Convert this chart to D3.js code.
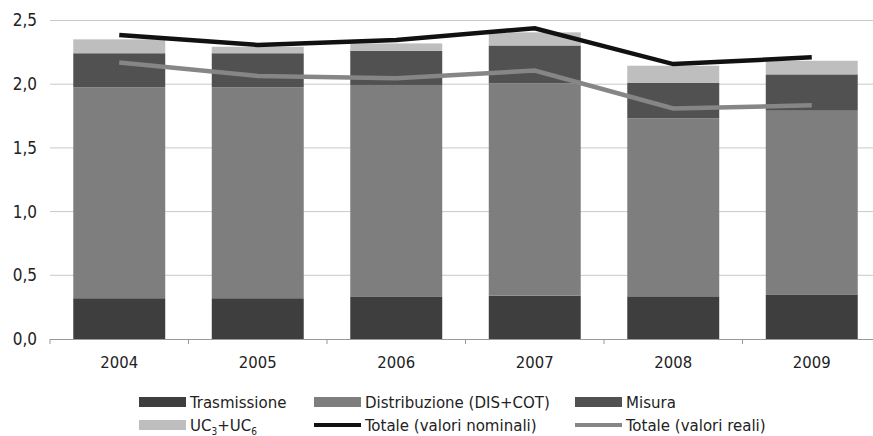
<!DOCTYPE html>
<html>
<head>
<meta charset="utf-8">
<script src="https://cdn.jsdelivr.net/npm/d3@7"></script>
<style>
  html, body { margin: 0; padding: 0; background: #fff; }
  svg { display: block; }
  text { font-family: "DejaVu Sans Condensed", "DejaVu Sans", sans-serif; fill: #222; }
</style>
</head>
<body>
<svg id="chart" width="873" height="436"></svg>
<script>
// ---- data ----
const years = ["2004", "2005", "2006", "2007", "2008", "2009"];
const trasmissione = [0.32, 0.32, 0.33, 0.34, 0.335, 0.35];
const distribuzione = [1.656, 1.656, 1.664, 1.667, 1.397, 1.442];
const misura = [0.267, 0.267, 0.269, 0.297, 0.28, 0.285];
const uc = [0.109, 0.051, 0.057, 0.103, 0.133, 0.107];
const totaleNominali = [2.386, 2.308, 2.347, 2.439, 2.158, 2.211];
const totaleReali = [2.17, 2.065, 2.046, 2.107, 1.81, 1.834];
const yTicks = [0, 0.5, 1.0, 1.5, 2.0, 2.5];

const seriesKeys = ["trasmissione", "distribuzione", "misura", "uc"];
const seriesColors = { trasmissione: "#3e3e3e", distribuzione: "#7e7e7e", misura: "#515151", uc: "#bebebe" };
const table = years.map((yr, i) => ({
  year: yr, trasmissione: trasmissione[i], distribuzione: distribuzione[i], misura: misura[i], uc: uc[i]
}));

const svg = d3.select("#chart");
const mLeft = 50, mRight = 881, mTop = 20.5, mBottom = 339;

const x = d3.scaleBand().domain(years).range([mLeft, mRight]).paddingInner(0.336).paddingOuter(0.168);
const y = d3.scaleLinear().domain([0, 2.5]).range([mBottom, mTop]);
const loc = d3.formatLocale({ decimal: ",", thousands: ".", grouping: [3], currency: ["", "€"] });
const fmt = loc.format(".1f");
const FONT = '"DejaVu Sans Condensed", "DejaVu Sans", sans-serif';

// gridlines
svg.append("g").selectAll("line").data(yTicks.filter(d => d > 0)).join("line")
  .attr("x1", mLeft).attr("x2", 873)
  .attr("y1", d => y(d)).attr("y2", d => y(d))
  .attr("stroke", "#c9c9c9").attr("stroke-width", 1);

// y axis labels
const yAxis = d3.axisLeft(y).tickValues(yTicks).tickFormat(fmt).tickSize(0).tickPadding(13);
const gy = svg.append("g").attr("transform", `translate(${mLeft},0)`).call(yAxis);
gy.select(".domain").remove();
gy.selectAll("text").attr("font-size", 17).attr("fill", "#222").style("font-family", FONT);

// stacked bars
const stack = d3.stack().keys(seriesKeys)(table);
svg.append("g").selectAll("g").data(stack).join("g")
  .attr("fill", d => seriesColors[d.key])
  .selectAll("rect").data(d => d).join("rect")
  .attr("x", d => x(d.data.year))
  .attr("width", x.bandwidth())
  .attr("y", d => y(d[1]))
  .attr("height", d => y(d[0]) - y(d[1]));

// x axis
const step = x.step();
const gx = svg.append("g").attr("transform", `translate(0,${mBottom})`);
gx.append("line").attr("x1", mLeft).attr("x2", 873).attr("y1", 0.5).attr("y2", 0.5)
  .attr("stroke", "#9a9a9a").attr("stroke-width", 1.2);
gx.selectAll("line.tick").data(years).join("line").attr("class", "tick")
  .attr("x1", d => x(d) - step * x.paddingInner() / 2)
  .attr("x2", d => x(d) - step * x.paddingInner() / 2)
  .attr("y1", 0).attr("y2", 5).attr("stroke", "#9a9a9a");
const xAxis = d3.axisBottom(x).tickSize(0).tickPadding(17);
const gxl = svg.append("g").attr("transform", `translate(0,${mBottom})`).call(xAxis);
gxl.select(".domain").remove();
gxl.selectAll("text").attr("font-size", 16.5).attr("fill", "#222").style("font-family", FONT);

// lines
const line = d3.line().x((d, i) => x(years[i]) + x.bandwidth() / 2).y(d => y(d));
svg.append("path").datum(totaleReali).attr("d", line)
  .attr("fill", "none").attr("stroke", "#868686").attr("stroke-width", 4.5);
svg.append("path").datum(totaleNominali).attr("d", line)
  .attr("fill", "none").attr("stroke", "#111").attr("stroke-width", 4.5);

// legend
const legendItems = [
  { label: "Trasmissione", type: "rect", color: seriesColors.trasmissione, col: 0, row: 0 },
  { label: "Distribuzione (DIS+COT)", type: "rect", color: seriesColors.distribuzione, col: 1, row: 0 },
  { label: "Misura", type: "rect", color: seriesColors.misura, col: 2, row: 0 },
  { label: "UC", type: "rect", color: seriesColors.uc, col: 0, row: 1, sub: true },
  { label: "Totale (valori nominali)", type: "line", color: "#111", col: 1, row: 1 },
  { label: "Totale (valori reali)", type: "line", color: "#868686", col: 2, row: 1 }
];
const colX = [139, 314, 575];
const rowY = [402, 425];
const lg = svg.append("g");
legendItems.forEach(it => {
  const lx = colX[it.col], ly = rowY[it.row];
  if (it.type === "rect") {
    lg.append("rect").attr("x", lx).attr("y", ly - 5).attr("width", 47).attr("height", 10).attr("fill", it.color);
  } else {
    lg.append("rect").attr("x", lx).attr("y", ly - 2).attr("width", 47).attr("height", 4).attr("fill", it.color);
  }
  const t = lg.append("text").attr("x", lx + 51).attr("y", ly).attr("dy", "0.36em").attr("font-size", 16.7);
  if (it.sub) {
    t.append("tspan").text("UC");
    t.append("tspan").attr("font-size", 10).attr("dy", 4).text("3");
    t.append("tspan").attr("dy", -4).text("+UC");
    t.append("tspan").attr("font-size", 10).attr("dy", 4).text("6");
  } else {
    t.text(it.label);
  }
});
</script>
</body>
</html>
